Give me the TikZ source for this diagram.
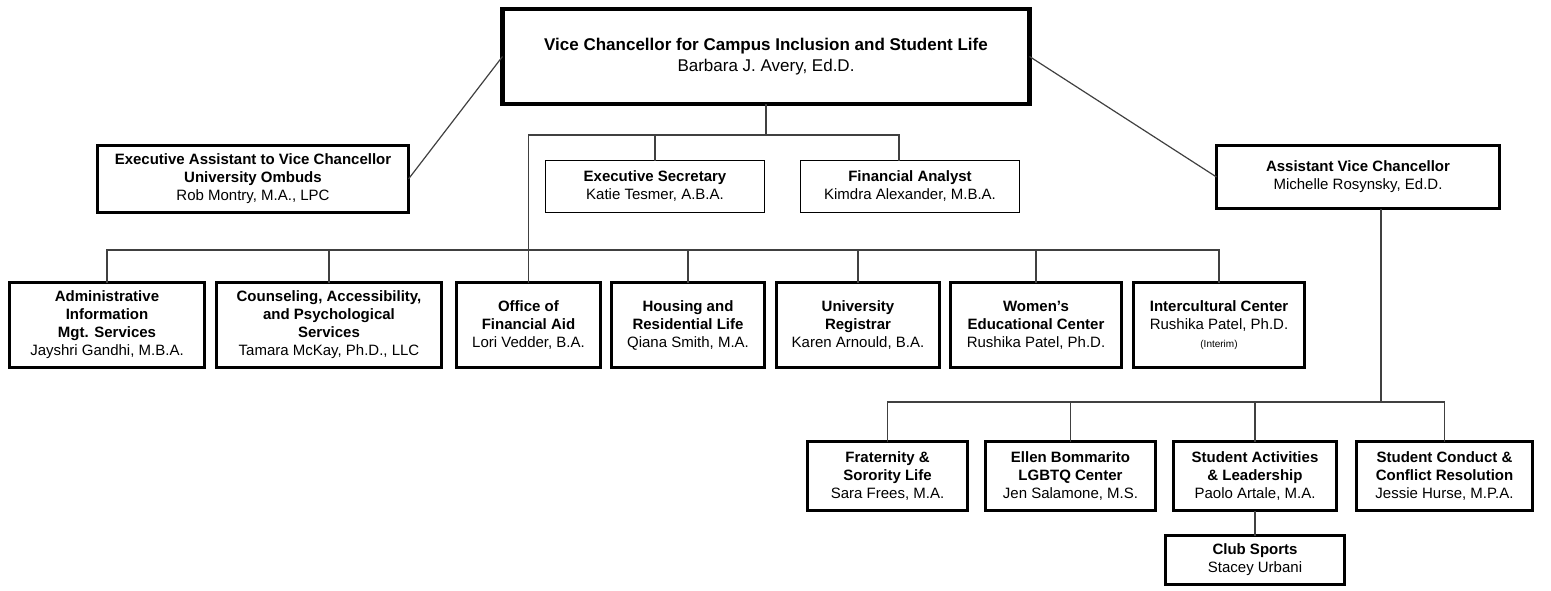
\documentclass[tikz,border=0pt]{standalone}
\usepackage{fontspec}
\setmainfont{Liberation Sans}
\usetikzlibrary{positioning, calc}

\begin{document}
\begin{tikzpicture}[x=1pt, y=-1pt,
    unit/.style={draw=black, align=center, inner sep=0pt, outer sep=0pt, font=\fontsize{15}{18}\selectfont},
    headunit/.style={unit, line width=4.5pt, font=\fontsize{17}{21}\selectfont},
    mainunit/.style={unit, line width=2.6pt},
    staffunit/.style={unit, line width=1.3pt},
    link/.style={draw=black!75, line width=1.2pt}
]
\useasboundingbox (0,0) rectangle (1551,590);

\node[headunit, minimum width=527pt, minimum height=95pt] (vc) at (766,56.5)
    {\textbf{Vice Chancellor for Campus Inclusion and Student Life}\\Barbara J. Avery, Ed.D.};
\node[mainunit, minimum width=311pt, minimum height=67pt] (ea) at (253,179)
    {\textbf{Executive Assistant to Vice Chancellor}\\\textbf{University Ombuds}\\Rob Montry, M.A., LPC};
\node[staffunit, minimum width=219pt, minimum height=52pt] (es) at (655,186.5)
    {\textbf{Executive Secretary}\\Katie Tesmer, A.B.A.};
\node[staffunit, minimum width=219pt, minimum height=52pt] (fa) at (910,186.5)
    {\textbf{Financial Analyst}\\Kimdra Alexander, M.B.A.};
\node[mainunit, minimum width=283pt, minimum height=63pt] (avc) at (1358,177)
    {\textbf{Assistant Vice Chancellor}\\Michelle Rosynsky, Ed.D.};

\node[mainunit, minimum width=195pt, minimum height=85pt] (admin) at (107,325)
    {\textbf{Administrative}\\\textbf{Information}\\\textbf{Mgt. Services}\\Jayshri Gandhi, M.B.A.};
\node[mainunit, minimum width=225pt, minimum height=85pt] (cap) at (329,325)
    {\textbf{Counseling, Accessibility,}\\\textbf{and Psychological}\\\textbf{Services}\\Tamara McKay, Ph.D., LLC};
\node[mainunit, minimum width=144pt, minimum height=85pt] (ofa) at (528.5,325)
    {\textbf{Office of}\\\textbf{Financial Aid}\\Lori Vedder, B.A.};
\node[mainunit, minimum width=153pt, minimum height=85pt] (hrl) at (688,325)
    {\textbf{Housing and}\\\textbf{Residential Life}\\Qiana Smith, M.A.};
\node[mainunit, minimum width=163pt, minimum height=85pt] (reg) at (858,325)
    {\textbf{University}\\\textbf{Registrar}\\Karen Arnould, B.A.};
\node[mainunit, minimum width=171pt, minimum height=85pt] (wec) at (1036,325)
    {\textbf{Women's}\\\textbf{Educational Center}\\Rushika Patel, Ph.D.};
\node[mainunit, minimum width=171pt, minimum height=85pt] (icc) at (1219,325)
    {\textbf{Intercultural Center}\\Rushika Patel, Ph.D.\\{\fontsize{10}{12}\selectfont (Interim)}};

\node[mainunit, minimum width=160pt, minimum height=69pt] (fsl) at (887.5,476)
    {\textbf{Fraternity \&}\\\textbf{Sorority Life}\\Sara Frees, M.A.};
\node[mainunit, minimum width=170pt, minimum height=69pt] (ebl) at (1070.5,476)
    {\textbf{Ellen Bommarito}\\\textbf{LGBTQ Center}\\Jen Salamone, M.S.};
\node[mainunit, minimum width=163pt, minimum height=69pt] (sal) at (1255,476)
    {\textbf{Student Activities}\\\textbf{\& Leadership}\\Paolo Artale, M.A.};
\node[mainunit, minimum width=176pt, minimum height=69pt] (scc) at (1444.5,476)
    {\textbf{Student Conduct \&}\\\textbf{Conflict Resolution}\\Jessie Hurse, M.P.A.};
\node[mainunit, minimum width=179pt, minimum height=49pt, below=25pt of sal] (cs)
    {\textbf{Club Sports}\\Stacey Urbani};

\coordinate (topbus) at (0,135);
\coordinate (rowbus) at (0,250);
\coordinate (lowbus) at (0,402);
\coordinate (fatop) at ([xshift=-11pt]fa.north);
\coordinate (avcfoot) at ([xshift=23pt]avc.south);

\draw[link] (vc.west) -- (ea.east);
\draw[link] (vc.east) -- (avc.west);
\draw[link] (vc.south) -- (vc.south |- topbus);
\draw[link] (ofa.north) -- (ofa.north |- topbus) -| (fatop);
\draw[link] (es.north) -- (es.north |- topbus);
\draw[link] (admin.north) -- (admin.north |- rowbus) -| (icc.north);
\foreach \u in {cap,hrl,reg,wec}
    \draw[link] (\u.north) -- (\u.north |- rowbus);
\draw[link] (avcfoot) -- (avcfoot |- lowbus);
\draw[link] (fsl.north) -- (fsl.north |- lowbus) -| (scc.north);
\foreach \u in {ebl,sal}
    \draw[link] (\u.north) -- (\u.north |- lowbus);
\draw[link] (sal.south) -- (cs.north);
\end{tikzpicture}
\end{document}
